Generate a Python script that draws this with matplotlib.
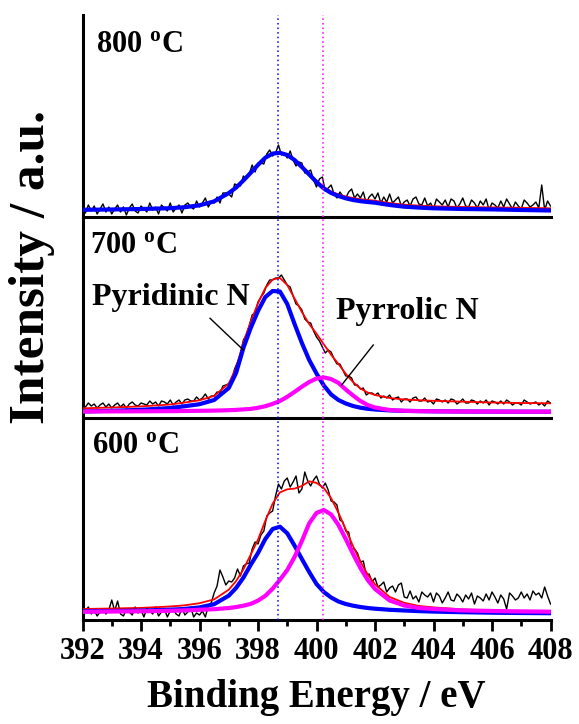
import numpy as np
import matplotlib
matplotlib.use("Agg")
import matplotlib.pyplot as plt
from matplotlib.ticker import MultipleLocator

plt.rcParams["font.family"] = ["Liberation Serif", "DejaVu Serif"]
plt.rcParams["font.weight"] = "bold"
plt.rcParams["mathtext.fontset"] = "custom"
plt.rcParams["mathtext.rm"] = "Liberation Serif:bold"
plt.rcParams["mathtext.bf"] = "Liberation Serif:bold"
plt.rcParams["mathtext.it"] = "Liberation Serif:bold"

# measured spectra, 392.0 ... 408.0 eV in 0.1 eV steps (a.u.)
raw_ev = np.round(np.arange(392.0, 408.05, 0.1), 1)

raw_800 = [9, 4, 12, 6, 11, 3, 8, 13, 5, 10,
           3, 8, 12, 5, 10, 2, 9, 13, 6, 4,
           11, 8, 5, 14, 7, 10, 3, 12, 9, 6,
           14, 5, 9, 12, 4, 12, 14, 10, 8, 16,
           10, 14, 19, 10, 15, 14, 20, 14, 24, 24,
           23, 20, 33, 32, 31, 41, 38, 43, 52, 45,
           54, 54, 53, 63, 67, 61, 64, 72, 62, 64,
           59, 66, 57, 51, 55, 54, 44, 45, 47, 37,
           30, 38, 40, 26, 29, 32, 23, 19, 25, 21,
           19, 25, 28, 19, 23, 19, 25, 14, 20, 23,
           18, 24, 14, 20, 15, 23, 14, 17, 20, 11,
           15, 17, 11, 18, 20, 13, 12, 19, 11, 14,
           8, 18, 15, 12, 17, 10, 18, 16, 9, 13,
           19, 11, 10, 17, 14, 9, 16, 12, 18, 7,
           14, 12, 9, 16, 10, 18, 13, 8, 15, 11,
           8, 17, 14, 10, 12, 15, 9, 32, 7, 16,
           11]

raw_700 = [13, 11, 15, 12, 14, 10, 13, 15, 11, 14,
           10, 13, 15, 11, 14, 10, 14, 16, 13, 12,
           15, 14, 13, 17, 14, 16, 12, 17, 16, 14,
           18, 13, 16, 18, 14, 18, 19, 17, 17, 21,
           18, 20, 24, 19, 22, 22, 26, 25, 32, 33,
           34, 38, 49, 56, 64, 78, 83, 92, 103, 105,
           116, 121, 125, 133, 138, 138, 140, 140, 143, 138,
           133, 131, 122, 114, 112, 108, 99, 96, 95, 87,
           81, 77, 71, 65, 68, 66, 59, 54, 54, 48,
           42, 42, 40, 33, 33, 29, 30, 23, 25, 25,
           23, 25, 20, 22, 20, 23, 18, 20, 21, 16,
           19, 19, 16, 20, 21, 17, 17, 20, 16, 17,
           14, 19, 18, 16, 18, 15, 19, 18, 14, 16,
           19, 15, 15, 18, 17, 14, 17, 15, 18, 13,
           17, 16, 14, 17, 14, 18, 16, 13, 15, 15,
           13, 18, 16, 14, 15, 16, 13, 15, 12, 17,
           15]

raw_600 = [5, 9, 13, 6, 10, 4, 8, 11, 6, 10,
           20, 9, 19, 6, 4, 11, 8, 5, 13, 7,
           10, 3, 12, 9, 6, 13, 4, 8, 11, 3,
           9, 11, 6, 4, 12, 5, 8, 13, 3, 7,
           5, 9, 3, 14, 17, 27, 34, 50, 43, 35,
           39, 38, 42, 51, 44, 54, 56, 57, 71, 78,
           76, 85, 89, 104, 107, 109, 124, 136, 131, 139,
           142, 133, 138, 144, 127, 131, 148, 139, 134, 140,
           144, 136, 132, 137, 130, 119, 118, 115, 100, 98,
           89, 88, 71, 71, 67, 58, 59, 45, 46, 38,
           42, 33, 35, 38, 28, 32, 34, 28, 35, 37,
           23, 22, 29, 21, 24, 18, 28, 25, 23, 27,
           18, 27, 24, 17, 22, 28, 20, 19, 26, 23,
           18, 25, 21, 27, 16, 24, 22, 19, 26, 20,
           28, 23, 17, 25, 21, 11, 27, 24, 20, 22,
           28, 22, 26, 20, 29, 25, 27, 22, 33, 24,
           16]

# fitted components
fit_ev = [392, 393, 394, 395, 395.5, 396, 396.5, 397, 397.25, 397.5, 397.75,
          398, 398.25, 398.5, 398.75, 399, 399.25, 399.5, 399.75, 400, 400.25,
          400.5, 400.75, 401, 401.25, 401.5, 401.75, 402, 402.5, 403, 403.5,
          404, 405, 406, 407, 408]

pyridinic_800 = [7.2, 7.5, 8.0, 8.8, 9.8, 11.7, 15.6, 23.9, 29.4, 36.5, 44.2,
                 52.1, 59.3, 63.4, 64.2, 62.0, 57.0, 50.0, 42.5, 35.0, 28.5,
                 24.0, 21.0, 18.7, 17.0, 15.8, 15.0, 14.3, 12.0, 10.3, 9.4,
                 8.7, 8.0, 7.6, 7.0, 6.5]
envelope_800 = [7.2, 7.5, 8.0, 8.8, 9.8, 11.7, 15.6, 23.9, 29.4, 36.5, 44.2,
                52.1, 59.3, 63.4, 64.2, 62.0, 57.3, 50.5, 43.2, 36.0, 30.0,
                25.5, 22.5, 20.5, 19.0, 17.8, 17.0, 16.3, 14.0, 12.3, 11.4,
                10.7, 10.0, 9.6, 9.2, 8.7]

pyridinic_700 = [6.5, 7.2, 8.2, 10.0, 11.8, 13.8, 18.0, 30.0, 45.0, 70.0, 90.0,
                 107.0, 121.0, 127.0, 126.5, 114.0, 94.0, 75.0, 58.0, 44.5, 32.5,
                 23.5, 18.0, 14.5, 12.0, 10.3, 9.2, 8.5, 7.6, 7.1, 6.9,
                 6.7, 6.5, 6.4, 6.3, 6.3]
pyrrolic_700 = [6.5, 6.6, 6.7, 6.85, 7.0, 7.2, 7.4, 7.8, 8.1, 8.6, 9.1,
                10.2, 11.8, 14.1, 17.0, 21.2, 26.1, 31.3, 36.0, 39.5, 40.6,
                38.9, 35.1, 28.5, 22.5, 17.0, 13.0, 10.5, 8.0, 7.2, 6.9,
                6.7, 6.5, 6.4, 6.3, 6.3]
envelope_700 = [9.7, 10.5, 11.6, 13.5, 15.5, 17.7, 22.1, 34.5, 49.9, 75.6, 96.3,
                114.7, 130.0, 138.5, 140.0, 133.0, 119.5, 106.0, 94.0, 84.3, 73.7,
                63.2, 54.1, 44.2, 35.9, 29.5, 25.5, 23.0, 20.0, 18.5, 17.8,
                17.2, 16.3, 15.5, 15.0, 14.7]

pyridinic_600 = [8.8, 9.0, 9.4, 10.3, 11.1, 12.6, 15.8, 24.3, 32.0, 42.3, 55.2,
                 67.0, 81.0, 91.0, 93.3, 86.7, 74.4, 61.0, 48.0, 36.0, 28.0,
                 22.5, 18.5, 16.0, 14.3, 13.0, 12.0, 11.3, 10.2, 9.5, 8.9,
                 8.4, 7.8, 7.3, 7.0, 6.8]
pyrrolic_600 = [8.2, 8.5, 8.7, 9.2, 9.6, 10.2, 10.8, 12.0, 12.9, 14.3, 16.1,
                19.4, 24.2, 31.3, 40.3, 50.0, 63.0, 79.0, 96.7, 107.1, 110.0,
                105.5, 95.0, 81.0, 66.0, 52.0, 40.0, 31.0, 19.5, 14.5, 12.0,
                11.0, 9.6, 9.0, 8.6, 8.3]
envelope_600 = [11.0, 11.5, 12.1, 13.5, 14.7, 16.8, 20.6, 30.3, 38.9, 50.6, 65.3,
                80.4, 99.2, 116.3, 127.6, 130.7, 131.4, 134.0, 138.7, 137.1, 132.0,
                121.8, 107.2, 90.6, 73.8, 58.5, 45.4, 35.7, 23.0, 17.2, 14.1,
                12.6, 10.6, 9.5, 8.8, 8.3]

temps = ["800", "700", "600"]
pyridinic_pos = 398.67
pyrrolic_pos = 400.23

W, H = 579, 724
fig = plt.figure(figsize=(W / 100, H / 100), dpi=100)

# panel rows in pixels (top, bottom)
rows = [(15, 217), (217, 418), (418, 620)]
panels = [
    (raw_800, pyridinic_800, None, envelope_800, (0.029, 0.818)),
    (raw_700, pyridinic_700, pyrrolic_700, envelope_700, (0.016, 0.819)),
    (raw_600, pyridinic_600, pyrrolic_600, envelope_600, (0.021, 0.828)),
]

axes = []
for (top, bot), temp, (raw, pyd, pyr, env, lab_xy) in zip(rows, temps, panels):
    ax = fig.add_axes([82.5 / W, (H - bot) / H, 468 / W, (bot - top) / H])
    ax.patch.set_visible(False)
    ax.plot(raw_ev, raw, color="black", lw=1.0, zorder=2)
    ax.plot(fit_ev, env, color="#ff0000", lw=1.3, zorder=3)
    ax.plot(fit_ev, pyd, color="#0000ff", lw=3.0, zorder=4)
    if pyr is not None:
        ax.plot(fit_ev, pyr, color="#ff00ff", lw=3.0, zorder=5)
    ax.axvline(pyridinic_pos, color="#0000ff", lw=1.1, ls=(0, (1, 2)), zorder=6)
    ax.axvline(pyrrolic_pos, color="#ff00ff", lw=1.1, ls=(0, (1, 2)), zorder=6)

    ax.set_xlim(392, 408)
    ax.set_ylim(0, bot - top)
    for side in ["top", "right"]:
        ax.spines[side].set_visible(False)
    for side in ["left", "bottom"]:
        ax.spines[side].set_linewidth(2.2)
    ax.set_yticks([])
    ax.text(lab_xy[0], lab_xy[1], temp + r" $^\mathrm{o}$C", transform=ax.transAxes,
            fontsize=22, fontweight="bold", ha="left", va="baseline")
    axes.append(ax)

for ax in axes[:2]:
    ax.tick_params(axis="x", bottom=False, labelbottom=False)

ax = axes[2]
ax.xaxis.set_major_locator(MultipleLocator(2))
ax.xaxis.set_minor_locator(MultipleLocator(1))
ax.tick_params(axis="x", which="major", direction="out", length=8, width=2,
               labelsize=22, pad=4)
ax.tick_params(axis="x", which="minor", direction="out", length=4, width=2)
for lab in ax.get_xticklabels():
    lab.set_fontweight("bold")

# peak annotations on the 700 C panel
ax = axes[1]
ax.text(392.32, 113, "Pyridinic N", fontsize=23, fontweight="bold", ha="left", va="baseline")
ax.plot([396.36, 397.5], [99.7, 68], color="black", lw=1.0, zorder=7)
ax.text(400.65, 99.5, "Pyrrolic N", fontsize=23, fontweight="bold", ha="left", va="baseline")
ax.plot([401.94, 400.86], [73, 33], color="black", lw=1.0, zorder=7)

fig.text(316 / W, 1 - 697 / H, "Binding Energy / eV", fontsize=28, fontweight="bold",
         ha="center", va="center")
fig.text(32 / W, 1 - 267 / H, "Intensity / a.u.", fontsize=37, fontweight="bold",
         ha="center", va="center", rotation=90)

fig.savefig("out.png", dpi=100)
